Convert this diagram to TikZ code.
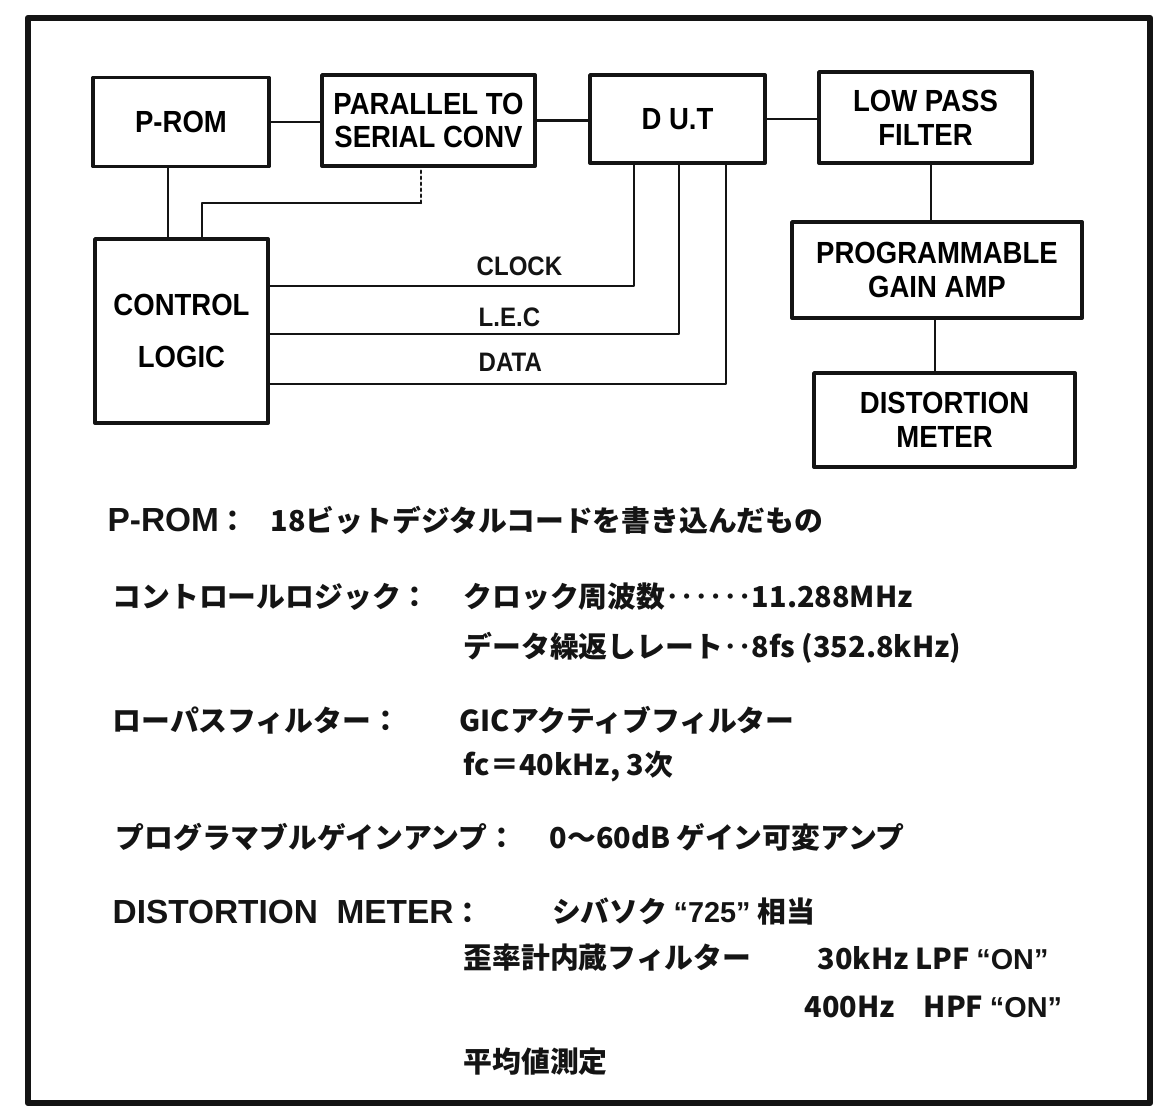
\documentclass[tikz,border=0pt]{standalone}
\usepackage{fontspec}
\usetikzlibrary{calc}
\newfontfamily\boxfont{Liberation Sans}[FakeStretch=0.9]
\newfontfamily\latfont{Liberation Sans Bold}
\newfontfamily\jpfont{Noto Sans CJK JP}
\definecolor{ink}{HTML}{141414}

\begin{document}
\begin{tikzpicture}[line cap=round, line join=round, x=0.1mm, y=-0.1mm,
  blockbox/.style={draw=ink, line width=1.1pt, fill=white, align=center, inner sep=0pt,
    font=\boxfont\bfseries\fontsize{8.7}{9.6}\selectfont},
  wire/.style={draw=ink, line width=0.7pt},
  siglabel/.style={anchor=west, inner sep=0pt, text=ink,
    font=\boxfont\bfseries\fontsize{7.6}{9}\selectfont},
  note/.style={anchor=west, inner sep=0pt, text=ink,
    font=\jpfont\bfseries\fontsize{8.2}{10}\selectfont}]
  \useasboundingbox (0,0) rectangle (1169,1107);
  % outer frame
  \draw[ink, line width=1.8pt] (28,18) rectangle (1150,1103);
  % blocks of the test set-up
  \node[blockbox, minimum width=17.6mm, minimum height=8.9mm] (prom) at (181,122) {P-ROM};
  \node[blockbox, minimum width=21.3mm, minimum height=9.1mm] (pts) at (428.5,120.5) {PARALLEL TO\\SERIAL CONV};
  \node[blockbox, minimum width=17.5mm, minimum height=8.8mm] (dut) at (677.5,119) {D U.T};
  \node[blockbox, minimum width=21.3mm, minimum height=9.1mm] (lpf) at (925.5,117.5) {LOW PASS\\FILTER};
  \node[blockbox, minimum width=29mm, minimum height=9.6mm] (pga) at (937,270) {PROGRAMMABLE\\GAIN AMP};
  \node[blockbox, minimum width=26.1mm, minimum height=9.4mm] (dist) at (944.5,420) {DISTORTION\\METER};
  \node[blockbox, minimum width=17.3mm, minimum height=18.4mm] (ctl) at (181.5,331) {CONTROL\\[5pt]LOGIC};
  % signal chain along the top
  \draw[wire] (prom.east) -- (prom.east -| pts.west);
  \draw[wire] (pts.east) -- (pts.east -| dut.west);
  \draw[wire] (dut.east) -- (dut.east -| lpf.west);
  \draw[wire] ([xshift=0.55mm]lpf.south) -- ([xshift=0.55mm]lpf.south |- pga.north);
  \draw[wire] ([xshift=-0.2mm]pga.south) -- ([xshift=-0.2mm]pga.south |- dist.north);
  % control logic links
  \draw[wire] ([xshift=-1.3mm]prom.south) -- ([xshift=-1.3mm]prom.south |- ctl.north);
  \coordinate (tap) at (421,203);
  \draw[wire] ([xshift=2.05mm]ctl.north) |- (tap);
  \draw[wire, densely dotted] (tap) -- (tap |- pts.south);
  \draw[wire] ([yshift=4.5mm]ctl.east) -| ([xshift=-4.35mm]dut.south);
  \draw[wire] ([yshift=-0.3mm]ctl.east) -| ([xshift=0.15mm]dut.south);
  \draw[wire] ([yshift=-5.3mm]ctl.east) -| ([xshift=4.85mm]dut.south);
  \node[siglabel] (clk) at (476,266) {CLOCK};
  \node[siglabel] (lec) at (478,317) {L.E.C};
  \node[siglabel] (dat) at (478,362) {DATA};
  % notes below the diagram
  \node[note] (n1a) at (107,520) {{\latfont\mdseries\fontsize{9.5}{11}\selectfont P-ROM}：};
  \node[note] (n1b) at (270,520) {18ビットデジタルコードを書き込んだもの};
  \node[note] (n2a) at (112,597) {コントロールロジック：};
  \node[note] (n2b) at (463,597) {クロック周波数‥‥‥11.288MHz};
  \node[note] (n2c) at (463,648) {データ繰返しレート‥8fs (352.8kHz)};
  \node[note] (n3a) at (112,720) {ローパスフィルター：};
  \node[note] (n3b) at (459,720) {GICアクティブフィルター};
  \node[note] (n3c) at (463,767) {fc＝40kHz, 3次};
  \node[note] (n4a) at (115,837) {プログラマブルゲインアンプ：};
  \node[note] (n4b) at (549,837) {0～60dB ゲイン可変アンプ};
  \node[note] (n5a) at (112,912) {{\latfont\mdseries\fontsize{9.5}{11}\selectfont DISTORTION\ \ METER}：};
  \node[note] (n5b) at (552,912) {シバソク {\latfont\mdseries “725”} 相当};
  \node[note] (n5c) at (463,958) {歪率計内蔵フィルター};
  \node[note] (n5d) at (817,958) {30kHz LPF {\latfont\mdseries “ON”}};
  \node[note] (n5e) at (804,1007) {400Hz\quad HPF {\latfont\mdseries “ON”}};
  \node[note] (n5f) at (463,1062) {平均値測定};
\end{tikzpicture}
\end{document}
